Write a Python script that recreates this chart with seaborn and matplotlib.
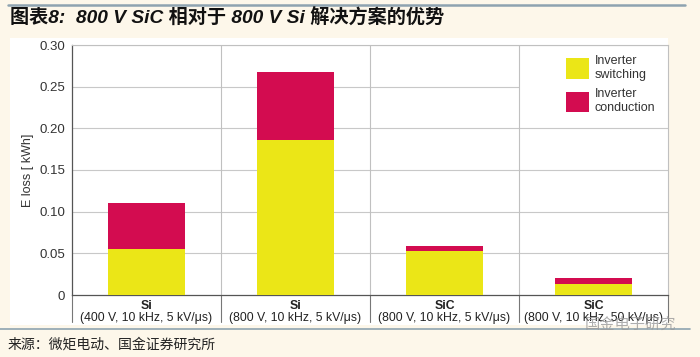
import matplotlib
matplotlib.use("Agg")
import matplotlib.pyplot as plt
from matplotlib.patches import Rectangle, Patch
from matplotlib.lines import Line2D
import seaborn as sns
import pandas as pd

# data
devices = ["Si", "Si", "SiC", "SiC"]
conditions = ["(400 V, 10 kHz, 5 kV/μs)", "(800 V, 10 kHz, 5 kV/μs)",
              "(800 V, 10 kHz, 5 kV/μs)", "(800 V, 10 kHz, 50 kV/μs)"]
switching = [0.055, 0.186, 0.053, 0.013]
conduction = [0.055, 0.081, 0.006, 0.007]
yticks = [0, 0.05, 0.10, 0.15, 0.20, 0.25, 0.30]
ytick_labels = ["0", "0.05", "0.10", "0.15", "0.20", "0.25", "0.30"]

YELLOW = "#ebe617"
RED = "#d30c50"
CREAM = "#fdf7ea"

sns.set_style("white")
plt.rcParams["font.family"] = ["Liberation Sans", "Noto Sans CJK SC"]

W, H = 700, 357
fx = lambda px: px / W
fy = lambda py: 1 - py / H

df = pd.DataFrame({
    "config": [f"{d}\n{c}" for d, c in zip(devices, conditions)],
    "switching": switching,
    "conduction": conduction,
})
df["total"] = df["switching"] + df["conduction"]

fig = plt.figure(figsize=(7, 3.57), dpi=100, facecolor=CREAM)

# white panel behind the chart
fig.patches.append(Rectangle((fx(10), fy(325)), fx(668) - fx(10), fy(38) - fy(325),
                             transform=fig.transFigure, facecolor="white",
                             edgecolor="none", zorder=-5))
# rules above title and under chart
fig.add_artist(Line2D([fx(8), fx(685)], [fy(5), fy(5)], color="#8ea3b0", lw=1.8))
fig.add_artist(Line2D([fx(0), fx(690)], [fy(329), fy(329)], color="#8ea3b0", lw=1.2))

ax = fig.add_axes([fx(72), fy(295), fx(668) - fx(72), fy(45) - fy(295)])
ax.set_facecolor("white")

sns.barplot(data=df, x="config", y="total", color=RED, saturation=1,
            width=0.52, linewidth=0, ax=ax, zorder=3)
sns.barplot(data=df, x="config", y="switching", color=YELLOW, saturation=1,
            width=0.52, linewidth=0, ax=ax, zorder=3)

ax.set_xlim(-0.5, 3.5)
ax.set_ylim(0, 0.30)
ax.set_yticks(yticks)
ax.set_yticklabels(ytick_labels, fontsize=9.5, color="#333333")
ax.tick_params(axis="y", direction="out", length=3, width=0.8, color="#555555", pad=2)
ax.set_xticks([])
ax.set_xlabel("")
ax.set_ylabel("E loss [ kWh]", fontsize=9, color="#333333", labelpad=4)

# gridlines (0.25 stops before the legend cell)
for v in yticks[1:]:
    xmax = 2.5 if v == 0.25 else 3.5
    ax.hlines(v, -0.5, xmax, color="#c8c8c8", lw=0.8, zorder=1)

for side in ["top", "right"]:
    ax.spines[side].set_color("#c0c0c0")
    ax.spines[side].set_linewidth(0.8)
ax.spines["left"].set_color("#555555")
ax.spines["bottom"].set_color("#555555")
ax.spines["left"].set_linewidth(0.9)
ax.spines["bottom"].set_linewidth(0.9)

# cell separators, continuing into the label row
tr = ax.get_xaxis_transform()
for xs in [0.5, 1.5, 2.5]:
    ax.plot([xs, xs], [0, 1], color="#c0c0c0", lw=0.8, transform=tr, zorder=1)
for xs in [-0.5, 0.5, 1.5, 2.5, 3.5]:
    ax.plot([xs, xs], [-0.108, 0], color="#777777", lw=0.8, transform=tr,
            clip_on=False, zorder=2)

for i, (d, c) in enumerate(zip(devices, conditions)):
    ax.text(i, -0.043, d, transform=tr, ha="center", va="center",
            fontsize=8.8, fontweight="bold", color="#222222")
    ax.text(i, -0.094, c, transform=tr, ha="center", va="center",
            fontsize=8.8, color="#222222")

handles = [Patch(facecolor=YELLOW, edgecolor="none"), Patch(facecolor=RED, edgecolor="none")]
ax.legend(handles, ["Inverter\nswitching", "Inverter\nconduction"],
          loc="upper left", bbox_to_anchor=((566 - 72) / 596, (295 - 55) / 250),
          frameon=False, fontsize=9, handlelength=1.85, handleheight=2.1,
          handletextpad=0.45, labelspacing=0.6, borderpad=0, borderaxespad=0)
for t in ax.get_legend().get_texts():
    t.set_color("#333333")

fig.text(fx(10), fy(18), "图表8:  800 V SiC 相对于 800 V Si 解决方案的优势",
         ha="left", va="center", fontsize=13.8, fontweight="bold", style="italic",
         color="#111111")
fig.text(fx(8), fy(345), "来源：微矩电动、国金证券研究所", ha="left", va="center",
         fontsize=10, color="#222222", family=["Noto Sans CJK SC", "DejaVu Sans"])
# watermark
fig.text(fx(630), fy(324), "国金电子研究", ha="center", va="center", fontsize=11,
         color="#9a9a9a", alpha=0.8, family=["Noto Sans CJK SC", "DejaVu Sans"])

fig.savefig("out.png", dpi=100, facecolor=CREAM)
